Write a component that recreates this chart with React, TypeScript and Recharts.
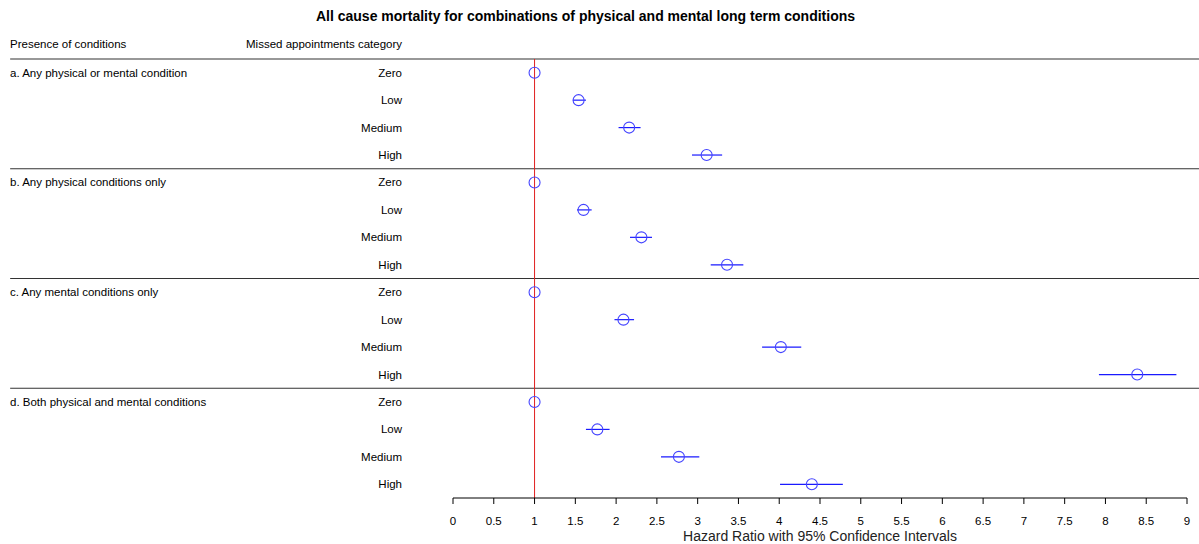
import React from "react";
import { ScatterChart, Scatter, XAxis, YAxis, ErrorBar, ReferenceLine } from "recharts";

const title = "All cause mortality for combinations of physical and mental long term conditions";
const groupHeader = "Presence of conditions";
const categoryHeader = "Missed appointments category";
const axisTitle = "Hazard Ratio with 95% Confidence Intervals";

const groups = [
  "a. Any physical or mental condition",
  "b. Any physical conditions only",
  "c. Any mental conditions only",
  "d. Both physical and mental conditions",
];
const categories = ["Zero", "Low", "Medium", "High"];

const hrA = [1, 1.54, 2.16, 3.11];
const loA = [1, 1.47, 2.03, 2.93];
const hiA = [1, 1.63, 2.30, 3.30];

const hrB = [1, 1.60, 2.31, 3.36];
const loB = [1, 1.52, 2.17, 3.16];
const hiB = [1, 1.70, 2.44, 3.56];

const hrC = [1, 2.09, 4.02, 8.39];
const loC = [1, 1.98, 3.79, 7.92];
const hiC = [1, 2.22, 4.27, 8.87];

const hrD = [1, 1.77, 2.77, 4.40];
const loD = [1, 1.63, 2.55, 4.01];
const hiD = [1, 1.92, 3.02, 4.78];

const xTicks = [0, 0.5, 1, 1.5, 2, 2.5, 3, 3.5, 4, 4.5, 5, 5.5, 6, 6.5, 7, 7.5, 8, 8.5, 9];
const separators = [-0.5, 3.5, 7.5, 11.5];
const nullLine = 1;

const hrs = [hrA, hrB, hrC, hrD];
const los = [loA, loB, loC, loD];
const his = [hiA, hiB, hiC, hiD];

const data = groups.flatMap((g, gi) =>
  categories.map((c, ci) => ({
    row: gi * 4 + ci,
    group: ci === 0 ? g : "",
    category: c,
    hr: hrs[gi][ci],
    err: [hrs[gi][ci] - los[gi][ci], his[gi][ci] - hrs[gi][ci]],
  }))
);
const yTicks = data.map((d) => d.row);

const FONT = "'Liberation Sans', Arial, sans-serif";
const LABEL_SIZE = 11.5;

const LeftTick = (props: any) => {
  const { y, payload } = props;
  const d = data.find((r) => r.row === payload.value);
  if (!d) return null;
  return (
    <g>
      {d.group ? (
        <text x={10} y={y} dy="0.35em" textAnchor="start" fontSize={LABEL_SIZE} fill="#000" fontFamily={FONT}>
          {d.group}
        </text>
      ) : null}
      <text x={402} y={y} dy="0.35em" textAnchor="end" fontSize={LABEL_SIZE} fill="#000" fontFamily={FONT}>
        {d.category}
      </text>
    </g>
  );
};

const Circle = (props: any) => {
  const { cx, cy } = props;
  return <circle cx={cx} cy={cy} r={5.5} fill="none" stroke="#4444ff" strokeWidth={1.1} />;
};

export default function App() {
  return (
    <div style={{ position: "absolute", left: 0, top: 0, width: 1199, height: 544, background: "#fff", fontFamily: FONT }}>
      <div style={{ position: "absolute", left: 0, top: 8, width: 1171, textAlign: "center", fontSize: 14, fontWeight: "bold", color: "#000" }}>
        {title}
      </div>
      <div style={{ position: "absolute", left: 10, top: 38, fontSize: LABEL_SIZE, color: "#000" }}>{groupHeader}</div>
      <div style={{ position: "absolute", right: 1199 - 402, top: 38, fontSize: LABEL_SIZE, color: "#000", whiteSpace: "nowrap" }}>
        {categoryHeader}
      </div>
      <ScatterChart width={1199} height={544} margin={{ top: 59, right: 12, bottom: 0, left: 0 }}>
        <XAxis
          type="number"
          dataKey="hr"
          domain={[0, 9]}
          ticks={xTicks}
          interval={0}
          allowDataOverflow
          height={46}
          stroke="#000"
          tickSize={6}
          tickMargin={13}
          tick={{ fontSize: LABEL_SIZE, fill: "#000", fontFamily: FONT }}
          label={{ value: axisTitle, position: "insideBottom", offset: 3, fontSize: 14, fill: "#222", fontFamily: FONT }}
        />
        <YAxis
          type="number"
          dataKey="row"
          domain={[-0.5, 15.5]}
          reversed
          ticks={yTicks}
          interval={0}
          width={453}
          axisLine={false}
          tickLine={false}
          tick={<LeftTick />}
        />
        {separators.map((s) => (
          <ReferenceLine
            key={s}
            segment={[
              { x: -5.43, y: s },
              { x: 9.15, y: s },
            ]}
            ifOverflow="visible"
            stroke="#333"
            strokeWidth={1.2}
          />
        ))}
        <ReferenceLine x={nullLine} stroke="#e02020" strokeWidth={1} />
        <Scatter data={data} shape={<Circle />} isAnimationActive={false}>
          <ErrorBar dataKey="err" direction="x" width={0} stroke="#1a1aff" strokeWidth={1.2} isAnimationActive={false} />
        </Scatter>
      </ScatterChart>
    </div>
  );
}
